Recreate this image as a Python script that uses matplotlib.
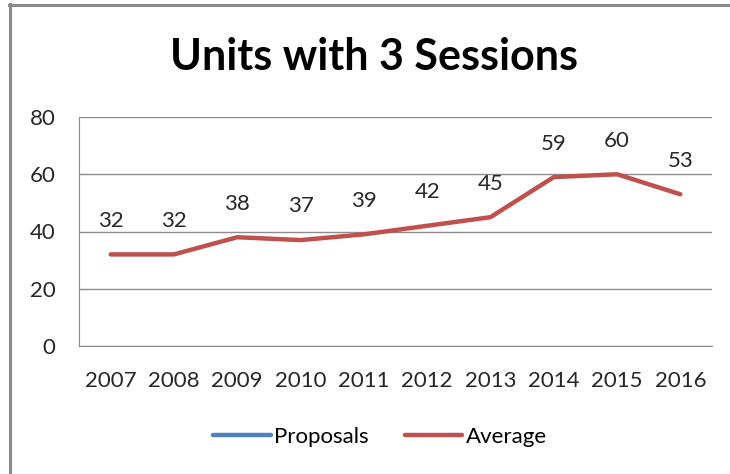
import matplotlib.pyplot as plt
from matplotlib.lines import Line2D

years = ['2007', '2008', '2009', '2010', '2011', '2012', '2013', '2014', '2015', '2016']
average = [32, 32, 38, 37, 39, 42, 45, 59, 60, 53]
proposals = []  # no visible values, only in the legend

plt.rcParams['font.family'] = ['Lato', 'DejaVu Sans']

fig = plt.figure(figsize=(7.3, 4.74), dpi=100)
W, H = 730, 474
ax = fig.add_axes([79 / W, 1 - 346 / H, (712 - 79) / W, (346 - 117) / H])

x = list(range(len(years)))
ax.plot(x, average, color='#C0504D', lw=3.2, solid_capstyle='round', solid_joinstyle='round', zorder=3)
ax.plot(x[:len(proposals)], proposals, color='#4F81BD', lw=3.2)

for xi, v in zip(x, average):
    ax.annotate(str(v), (xi, v), xytext=(0, 17), textcoords='offset points',
                ha='center', va='bottom', fontsize=16, color='#262626')

ax.set_xlim(-0.5, len(years) - 0.5)
ax.set_ylim(0, 80)
ax.set_yticks([0, 20, 40, 60, 80])
ax.set_xticks(x)
ax.set_xticklabels(years)
ax.grid(axis='y', color='#8c8c8c', lw=1)
ax.set_axisbelow(True)
for s in ['top', 'right']:
    ax.spines[s].set_visible(False)
for s in ['left', 'bottom']:
    ax.spines[s].set_color('#8c8c8c')
ax.tick_params(length=0, labelsize=16, colors='#262626')
ax.tick_params(axis='x', pad=18)
ax.tick_params(axis='y', pad=17)

fig.text(374 / W, 1 - 57 / H, 'Units with 3 Sessions', ha='center', va='center',
         fontsize=31, fontweight='bold', color='black')

handles = [Line2D([], [], color='#4F81BD', lw=3.2, solid_capstyle='round'),
           Line2D([], [], color='#C0504D', lw=3.2, solid_capstyle='round')]
fig.legend(handles, ['Proposals', 'Average'], loc='center', bbox_to_anchor=(380 / W, 1 - 437 / H),
           ncol=2, frameon=False, fontsize=16, handlelength=2.6, handletextpad=0.15, columnspacing=1.6)

# outer chart frame
fig.add_artist(Line2D([9 / W, 1], [1 - 4.5 / H] * 2, color='#8a8a8a', lw=2.2, transform=fig.transFigure))
fig.add_artist(Line2D([9.5 / W] * 2, [0, 1 - 4 / H], color='#8a8a8a', lw=2.2, transform=fig.transFigure))

fig.savefig('out.png', dpi=100)
